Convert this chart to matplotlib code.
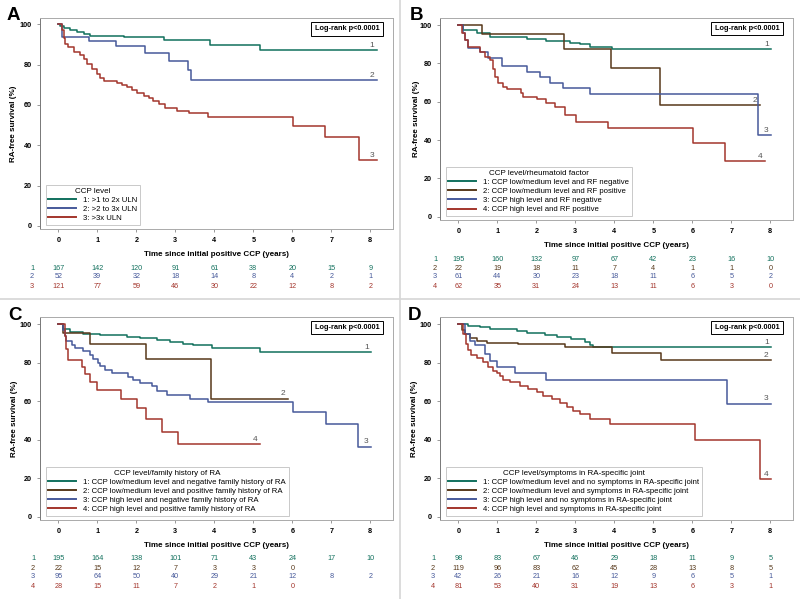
import matplotlib.pyplot as plt
import matplotlib.transforms as mtransforms
from matplotlib.lines import Line2D

plt.rcParams['font.family'] = ['Liberation Sans', 'DejaVu Sans']

TEAL = '#11705d'
BLUE = '#46599a'
RED = '#a3352c'
BROWN = '#57381a'

years = [0, 1, 2, 3, 4, 5, 6, 7, 8]
xlabel = 'Time since initial positive CCP (years)'
ylabel = 'RA-free survival (%)'
logrank = 'Log-rank p<0.0001'

# panel A: CCP level
a_title = 'CCP level'
a_labels = ['1: >1 to 2x ULN', '2: >2 to 3x ULN', '3: >3x ULN']
a1_t = [0.05, 0.14, 0.31, 0.48, 0.65, 0.82, 1.68, 2.7, 3.9, 5.16]
a1_s = [99, 98, 97, 96, 95, 94.3, 93.5, 92.4, 89.6, 87.2]
a2_t = [0.09, 0.78, 1.49, 2.23, 2.85, 3.32, 3.4]
a2_s = [93.9, 91.8, 89, 86, 81.8, 77.3, 72.4]
a3_t = [0.09, 0.14, 0.18, 0.26, 0.39, 0.56, 0.65, 0.74, 0.86, 0.99, 1.08, 1.16,
        1.5, 1.63, 1.76, 1.89, 2.02, 2.19, 2.32, 2.44, 2.57, 2.74, 3.04, 3.34,
        3.85, 6.03, 6.85, 7.7]
a3_s = [97, 93, 90, 88.5, 86.5, 85, 83, 80.5, 78, 75.5, 73.5, 72,
        71, 70, 69, 67.5, 66, 64.5, 63.5, 62, 60.5, 58.5, 57, 56,
        54, 49.5, 44.3, 32.8]
a_end = [8.17, 8.17, 8.17]
a_risk = [[167, 142, 120, 91, 61, 38, 20, 15, 9],
          [52, 39, 32, 18, 14, 8, 4, 2, 1],
          [121, 77, 59, 46, 30, 22, 12, 8, 2]]

# panel B: CCP level / rheumatoid factor
b_title = 'CCP level/rheumatoid factor'
b_labels = ['1: CCP low/medium level and RF negative',
            '2: CCP low/medium level and RF positive',
            '3: CCP high level and RF negative',
            '4: CCP high level and RF positive']
b1_t = [0.13, 0.47, 0.81, 1.75, 2.26, 2.86, 3.12, 3.38, 3.93]
b1_s = [97.4, 95.6, 93.6, 92.7, 91.8, 90.8, 89.9, 88.7, 87.3]
b2_t = [0.6, 2.71, 3.91, 5.17]
b2_s = [95.1, 87.5, 77.7, 58.3]
b3_t = [0.13, 0.17, 0.26, 0.56, 0.77, 1.11, 1.75, 2.09, 2.35, 2.69, 3.38, 7.69]
b3_s = [96, 92.2, 88.2, 85.7, 82.6, 78.6, 75.3, 72.7, 69.9, 67.3, 63.8, 42.6]
b4_t = [0.09, 0.17, 0.26, 0.56, 0.68, 0.81, 0.9, 0.94, 1.03, 1.15, 1.24, 1.62,
        1.67, 2.01, 2.26, 2.48, 2.74, 3.03, 3.85, 6.03, 6.84]
b4_s = [96, 92, 88.7, 86, 83.5, 81.7, 77, 73, 69.6, 67.5, 66.4, 64.3,
        62.6, 61.2, 59.5, 57.4, 53, 49.6, 46.4, 38.6, 29]
b_end = [8.03, 7.74, 8.03, 7.86]
b_risk = [[195, 160, 132, 97, 67, 42, 23, 16, 10],
          [22, 19, 18, 11, 7, 4, 1, 1, 0],
          [61, 44, 30, 23, 18, 11, 6, 5, 2],
          [62, 35, 31, 24, 13, 11, 6, 3, 0]]

# panel C: CCP level / family history
c_title = 'CCP level/family history of RA'
c_labels = ['1: CCP low/medium level and negative family history of RA',
            '2: CCP low/medium level and positive family history of RA',
            '3: CCP high level and negative family history of RA',
            '4: CCP high level and positive family history of RA']
c1_t = [0.13, 0.3, 0.64, 1.07, 1.75, 2.09, 2.52, 2.86, 3.2, 3.46, 3.93, 5.17]
c1_s = [97.5, 96.2, 95, 94.3, 93.5, 92.7, 92, 91, 90, 89.2, 87.8, 85.7]
c2_t = [0.13, 0.8, 2.24, 3.91]
c2_s = [95.3, 89.6, 82.1, 61.4]
c3_t = [0.13, 0.17, 0.21, 0.34, 0.43, 0.64, 0.81, 0.9, 1.03, 1.07, 1.2, 1.37,
        1.79, 1.92, 2.09, 2.39, 2.52, 2.78, 3.38, 3.85, 6.03, 6.86, 7.69]
c3_s = [97, 94, 91.5, 89.5, 87.5, 86, 84, 82, 80, 78.5, 76.5, 74.8,
        72.5, 71, 69.5, 68, 65.5, 63.1, 61.4, 59.7, 54.4, 48.3, 36.5]
c4_t = [0.17, 0.21, 0.26, 0.6, 0.68, 0.81, 0.98, 1.62, 2.01, 2.26, 2.65, 3.08]
c4_s = [94, 87, 81.7, 77.9, 74.1, 70.1, 65.7, 61, 56.7, 50.8, 44.3, 37.9]
c_end = [8.03, 5.9, 8.03, 5.17]
c_risk = [[195, 164, 138, 101, 71, 43, 24, 17, 10],
          [22, 15, 12, 7, 3, 3, 0],
          [95, 64, 50, 40, 29, 21, 12, 8, 2],
          [28, 15, 11, 7, 2, 1, 0]]

# panel D: CCP level / symptoms
d_title = 'CCP level/symptoms in RA-specific joint'
d_labels = ['1: CCP low/medium level and no symptoms in RA-specific joint',
            '2: CCP low/medium level and symptoms in RA-specific joint',
            '3: CCP high level and no symptoms in RA-specific joint',
            '4: CCP high level and symptoms in RA-specific joint']
d1_t = [0.26, 0.56, 0.81, 1.5, 1.75, 2.22, 2.52, 2.9, 3.25, 3.38, 3.46]
d1_s = [99.2, 98.5, 97.6, 96.5, 95.7, 94.3, 93.5, 92.2, 91, 89.2, 88.2]
d2_t = [0.09, 0.17, 0.3, 0.47, 0.73, 1.54, 2.74, 3.93, 5.19]
d2_s = [97, 95, 93, 91.5, 90.4, 89.6, 88.2, 84.9, 81.4]
d3_t = [0.17, 0.3, 0.43, 0.68, 0.81, 0.98, 1.45, 2.26, 6.88]
d3_s = [95, 91.5, 89.2, 84.5, 81, 77.9, 74.8, 71, 58.8]
d4_t = [0.13, 0.21, 0.26, 0.32, 0.47, 0.64, 0.77, 0.9, 0.98, 1.07, 1.15, 1.32,
        1.58, 1.79, 2.01, 2.18, 2.39, 2.6, 2.78, 2.95, 3.12, 3.38, 3.89, 6.07, 7.74]
d4_s = [95, 90, 86.5, 84, 82.3, 80.5, 78, 76, 74.5, 73, 71, 70.1,
        68, 66.5, 64.9, 63, 61, 59, 57, 55, 53.6, 51, 48, 40, 19.7]
d_end = [8.03, 8.03, 8.03, 8.03]
d_risk = [[98, 83, 67, 46, 29, 18, 11, 9, 5],
          [119, 96, 83, 62, 45, 28, 13, 8, 5],
          [42, 26, 21, 16, 12, 9, 6, 5, 1],
          [81, 53, 40, 31, 19, 13, 6, 3, 1]]

W, H = 800, 599
fig = plt.figure(figsize=(W / 100, H / 100), dpi=100)
fig.patch.set_facecolor('white')

FS = 5.6


def panel(letter, lx, ly, left, top, bottom, y100, y0, curves, ends, colors,
          title, labels, risk):
    right = left + 353
    ax = fig.add_axes([left / W, 1 - bottom / H, (right - left) / W, (bottom - top) / H])
    scale = (y0 - y100) / 100.0
    ax.set_ylim(-(bottom - y0) / scale, 100 + (y100 - top) / scale)
    x0 = left + 18.3
    ax.set_xlim(-(x0 - left) / 39.0, (right - x0) / 39.0)

    for (t, s), end, col, lab in zip(curves, ends, colors, labels):
        tt = [0] + list(t) + [end]
        ss = [100] + list(s) + [s[-1]]
        ax.step(tt, ss, where='post', color=col, lw=1.1, label=lab)
        ax.text(end - 0.13, s[-1] + 0.6, lab.split(':')[0], fontsize=FS + 0.4,
                color='#555555', ha='center', va='bottom')

    ax.set_xticks(years)
    ax.set_yticks([0, 20, 40, 60, 80, 100])
    ax.tick_params(length=2.5, width=0.6, color='#888888', labelsize=FS - 0.4, pad=3.5)
    for lb in ax.get_xticklabels() + ax.get_yticklabels():
        lb.set_fontweight('bold')
    for sp in ax.spines.values():
        sp.set_color('#aaaaaa')
        sp.set_linewidth(0.7)
    ax.spines['left'].set_color('#777777')

    ax.set_xlabel(xlabel, fontsize=FS + 0.2, fontweight='bold', labelpad=5)
    ax.set_ylabel(ylabel, fontsize=FS + 0.2, fontweight='bold')
    ax.yaxis.set_label_coords((lx + 10 - left) / 353.0, 0.5)

    ax.text(0.87, 0.948, logrank, transform=ax.transAxes, fontsize=FS - 0.3,
            fontweight='bold', ha='center', va='center',
            bbox=dict(boxstyle='square,pad=0.45', fc='white', ec='black', lw=0.7))

    leg = ax.legend(loc='lower left', bbox_to_anchor=(0.016, 0.02), borderaxespad=0,
                    title=title, fontsize=FS, title_fontsize=FS + 0.2, frameon=True,
                    fancybox=False, handlelength=3.6, handletextpad=0.9,
                    labelspacing=0.22, borderpad=0.35, alignment='center')
    leg.get_frame().set_edgecolor('#bbbbbb')
    leg.get_frame().set_linewidth(0.7)
    for ln in leg.get_lines():
        ln.set_linewidth(1.4)

    tr = mtransforms.blended_transform_factory(ax.transData, fig.transFigure)
    first = bottom + 39
    for i, row in enumerate(risk):
        ypx = first + 9 * i
        ax.text(-(x0 - (lx + 25)) / 39.0, 1 - ypx / H, str(i + 1), transform=tr,
                fontsize=FS - 0.3, color=colors[i], ha='center', va='center')
        for yr, v in zip(years, row):
            ax.text(yr, 1 - ypx / H, str(v), transform=tr, fontsize=FS - 0.4,
                    color=colors[i], ha='center', va='center')

    fig.text(lx / W, 1 - ly / H, letter, fontsize=13.5, fontweight='bold',
             ha='left', va='baseline')


panel('A', 7, 20, 40, 18, 229, 24.3, 226, [(a1_t, a1_s), (a2_t, a2_s), (a3_t, a3_s)],
      a_end, [TEAL, BLUE, RED], a_title, a_labels, a_risk)
panel('B', 410, 20, 440, 18, 220, 25, 216.7,
      [(b1_t, b1_s), (b2_t, b2_s), (b3_t, b3_s), (b4_t, b4_s)],
      b_end, [TEAL, BROWN, BLUE, RED], b_title, b_labels, b_risk)
panel('C', 8, 320, 40, 317, 520, 324.3, 516.8,
      [(c1_t, c1_s), (c2_t, c2_s), (c3_t, c3_s), (c4_t, c4_s)],
      c_end, [TEAL, BROWN, BLUE, RED], c_title, c_labels, c_risk)
panel('D', 408, 320, 440, 317, 520, 324.3, 516.8,
      [(d1_t, d1_s), (d2_t, d2_s), (d3_t, d3_s), (d4_t, d4_s)],
      d_end, [TEAL, BROWN, BLUE, RED], d_title, d_labels, d_risk)

fig.add_artist(Line2D([400 / W, 400 / W], [0, 1], color='#d6d6d6', lw=1.2))
fig.add_artist(Line2D([0, 1], [1 - 299 / H, 1 - 299 / H], color='#d6d6d6', lw=1.2))

fig.savefig('out.png', dpi=100, facecolor='white')
